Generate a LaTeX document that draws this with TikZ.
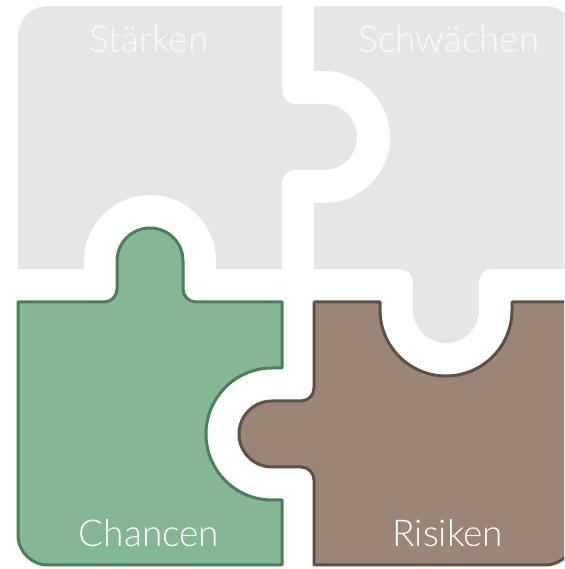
\documentclass[tikz,border=0pt]{standalone}
\usepackage{fontspec}
\setmainfont{Lato Light}
\definecolor{pgray}{RGB}{230,230,230}
\definecolor{gtext}{RGB}{248,248,248}
\definecolor{gfill}{RGB}{132,183,149}
\definecolor{gline}{RGB}{76,126,92}
\definecolor{bfill}{RGB}{154,133,120}
\definecolor{bline}{RGB}{94,80,70}
\tikzset{
  grayPiece/.style={fill=pgray, draw=none},
  greenPiece/.style={fill=gfill, draw=gline, line width=3pt, line join=round},
  brownPiece/.style={fill=bfill, draw=bline, line width=3pt, line join=round},
  lbl/.style={anchor=base, inner sep=0pt, font=\fontsize{37}{40}\selectfont}
}
\begin{document}
\begin{tikzpicture}[x=1pt,y=1pt]
\clip (0,0) rectangle (564,569);
% Staerken
\path[grayPiece] (18,300) -- (18,533) arc[start angle=180,end angle=90,radius=30pt]
  -- (282,563) -- (282,478) arc[start angle=180,end angle=270,radius=13pt]
  -- (324,465) arc[start angle=90,end angle=-90,radius=33pt]
  -- (295,399) arc[start angle=90,end angle=180,radius=13pt]
  -- (282,300) -- (216,300) -- (216,308) arc[start angle=0,end angle=180,radius=66pt]
  -- (84,300) -- cycle;
% Schwaechen
\path[grayPiece] (314,300) -- (314,366) -- (324,366) arc[start angle=-90,end angle=90,radius=66pt]
  -- (314,498) -- (314,563) -- (545,563) arc[start angle=90,end angle=0,radius=30pt]
  -- (575,300) -- (492,300) arc[start angle=90,end angle=180,radius=13pt]
  -- (479,259) arc[start angle=0,end angle=-180,radius=33pt]
  -- (413,287) arc[start angle=0,end angle=90,radius=13pt]
  -- cycle;
% Chancen
\path[greenPiece] (18,267) -- (18,34) arc[start angle=180,end angle=270,radius=30pt]
  -- (282,4) -- (282,69) -- (272,69) arc[start angle=-90,end angle=-270,radius=66pt]
  -- (282,201) -- (282,267) -- (196,267) arc[start angle=270,end angle=180,radius=13pt]
  -- (183,308) arc[start angle=0,end angle=180,radius=33pt]
  -- (117,280) arc[start angle=0,end angle=-90,radius=13pt]
  -- cycle;
% Risiken
\path[brownPiece] (314,267) -- (380,267) -- (380,259) arc[start angle=180,end angle=360,radius=66pt]
  -- (512,267) -- (575,267) -- (575,34) arc[start angle=0,end angle=-90,radius=30pt]
  -- (314,4) -- (314,89) arc[start angle=0,end angle=90,radius=13pt]
  -- (272,102) arc[start angle=-90,end angle=-270,radius=33pt]
  -- (301,168) arc[start angle=-90,end angle=0,radius=13pt]
  -- cycle;
\node[lbl, text=gtext] (s) at (149,516) {Stärken};
\node[lbl, text=gtext] (w) at (449,516) {Schwächen};
\node[lbl, text=white] (o) at (149,22) {Chancen};
\node[lbl, text=white] (t) at (448,22) {Risiken};
\end{tikzpicture}
\end{document}
